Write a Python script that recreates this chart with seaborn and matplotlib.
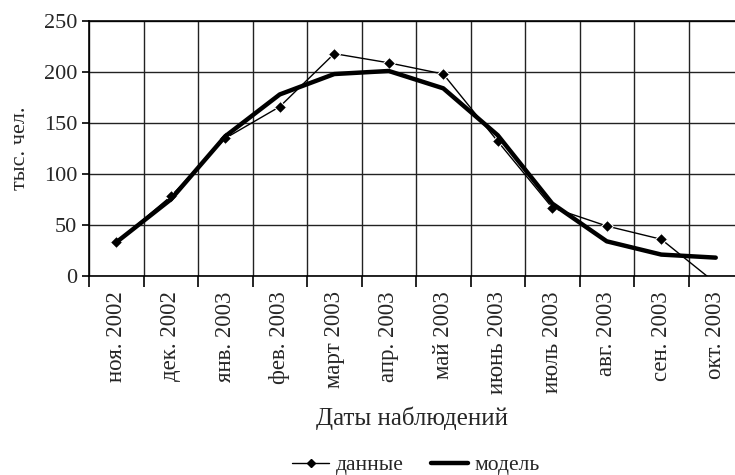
import numpy as np
import pandas as pd
import matplotlib
matplotlib.use("Agg")
import matplotlib.pyplot as plt
import seaborn as sns
from matplotlib.lines import Line2D

# ── data ────────────────────────────────────────────────────
months = ["ноя. 2002", "дек. 2002", "янв. 2003", "фев. 2003", "март 2003",
          "апр. 2003", "май 2003", "июнь 2003", "июль 2003", "авг. 2003",
          "сен. 2003", "окт. 2003"]
observed = [33, 78, 135, 166, 218, 209, 198, 132, 67, 49, 36, -7]
model = [33, 75, 137, 178, 198, 201, 184, 138, 71, 34, 21, 18]
y_ticks = [0, 50, 100, 150, 200, 250]

df = pd.DataFrame({"month": months, "данные": observed, "модель": model})

sns.set_style("white")
plt.rcParams["font.family"] = ["Liberation Serif", "DejaVu Serif"]

fig = plt.figure(figsize=(7.35, 4.75), dpi=100)
# axes runs a bit past the right edge, as in the cropped original
ax = fig.add_axes([89 / 735, 199 / 475, 654 / 735, 255 / 475])

sns.lineplot(data=df, x="month", y="данные", ax=ax, color="black",
             linewidth=1.0, marker="D", markersize=6.5, sort=False)
sns.lineplot(data=df, x="month", y="модель", ax=ax, color="black",
             linewidth=3.2, sort=False)

ax.set_xlim(-0.5, len(months) - 0.5)
ax.set_ylim(0, 250)

# grid cells between the months, labels in the middle of each cell
ax.set_xticks(np.arange(-0.5, len(months)), labels=[])
ax.set_xticks(np.arange(len(months)), labels=months, minor=True, rotation=90)
ax.set_yticks(y_ticks)
ax.tick_params(axis="x", which="major", length=8, width=1.2, color="black",
               direction="out", bottom=True)
ax.tick_params(axis="x", which="minor", length=0, labelsize=16.5, pad=11)
ax.tick_params(axis="y", length=5, width=1.2, color="black", left=True,
               labelsize=16)
ax.grid(True, which="major", color="#222222", linewidth=1.0)

for s in ax.spines.values():
    s.set_color("black")
    s.set_linewidth(1.2)

ax.set_xlabel("Даты наблюдений", fontsize=18)
ax.set_ylabel("тыс. чел.", fontsize=16, labelpad=10)
ax.xaxis.set_label_coords((412 - 89) / 654, -(407 - 276) / 255)

handles = [Line2D([], [], color="black", linewidth=1.0, marker="D", markersize=4),
           Line2D([], [], color="black", linewidth=3.2)]
fig.legend(handles, ["данные", "модель"], loc="center",
           bbox_to_anchor=(416 / 735, 1 - 465 / 475), ncol=2, frameon=False,
           fontsize=15.5, handlelength=1.7, columnspacing=1.3, handletextpad=0.3)

fig.savefig("out.png", dpi=100)
